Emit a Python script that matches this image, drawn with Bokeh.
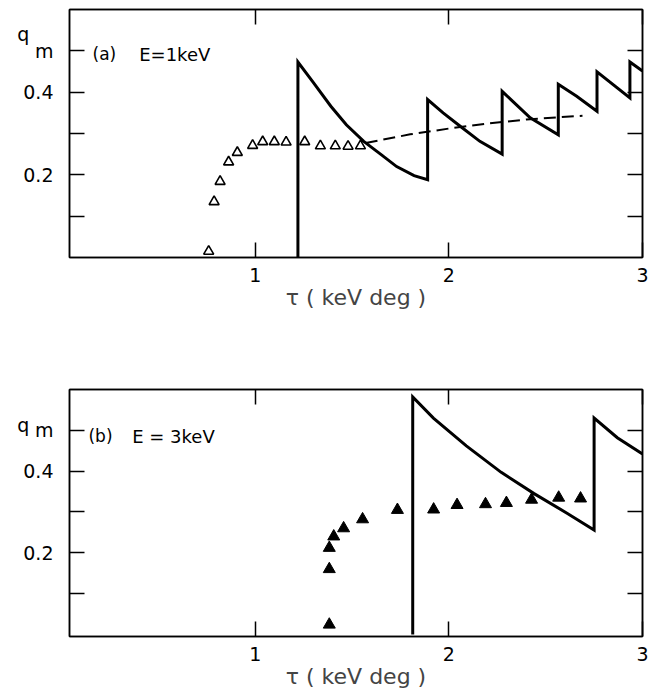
from bokeh.plotting import figure
from bokeh.models import Range1d, FixedTicker, LinearAxis, Label
from bokeh.layouts import column
from bokeh.embed import file_html
from bokeh.resources import INLINE

# ---------------- data ----------------
# panel (a) E = 1 keV : measured points (open triangles)
tri_a_x = [0.759, 0.787, 0.818, 0.862, 0.907, 0.986, 1.038, 1.098, 1.159, 1.255, 1.336, 1.413, 1.479, 1.543]
tri_a_y = [0.015, 0.135, 0.184, 0.231, 0.254, 0.271, 0.280, 0.280, 0.279, 0.280, 0.270, 0.270, 0.269, 0.270]
# panel (a) calculated sawtooth (solid)
saw_a_x = [1.22, 1.22, 1.30, 1.39, 1.47, 1.56, 1.65, 1.73, 1.82, 1.89, 1.89, 1.97, 2.06, 2.16, 2.275,
           2.275, 2.42, 2.565, 2.565, 2.66, 2.765, 2.765, 2.935, 2.935, 3.0]
saw_a_y = [0.0, 0.473, 0.423, 0.366, 0.321, 0.281, 0.249, 0.220, 0.198, 0.188, 0.382, 0.350, 0.317, 0.281, 0.250,
           0.402, 0.338, 0.297, 0.419, 0.390, 0.354, 0.449, 0.386, 0.473, 0.451]
# panel (a) dashed trend
dash_a_x = [1.57, 1.80, 2.00, 2.20, 2.40, 2.69]
dash_a_y = [0.277, 0.298, 0.312, 0.324, 0.334, 0.343]

# panel (b) E = 3 keV : measured points (filled triangles)
tri_b_x = [1.382, 1.382, 1.382, 1.405, 1.456, 1.554, 1.734, 1.921, 2.042, 2.189, 2.297, 2.427, 2.567, 2.680]
tri_b_y = [0.024, 0.160, 0.212, 0.240, 0.260, 0.282, 0.305, 0.306, 0.317, 0.319, 0.322, 0.330, 0.335, 0.333]
# panel (b) calculated sawtooth (solid)
saw_b_x = [1.813, 1.813, 1.92, 2.09, 2.27, 2.44, 2.61, 2.75, 2.75, 2.87, 3.0]
saw_b_y = [0.0, 0.582, 0.530, 0.462, 0.397, 0.345, 0.297, 0.256, 0.530, 0.482, 0.442]

x_ticks = [1, 2, 3]
y_ticks = [0.1, 0.2, 0.3, 0.4, 0.5]
y_label_ticks = [0.2, 0.4, 0.5]
# the subscript "m" of the axis symbol q_m sits exactly at the 0.5 tick
y_tick_labels = {0.2: "0.2", 0.4: "0.4", 0.5: "m"}
q_text = "q\u00a0\u00a0\u00a0\u00a0"
x_label = "τ ( keV deg )"

FONT = "DejaVu Sans"


def style_axis(ax, labels=True):
    ax.major_tick_in = 15
    ax.major_tick_out = 0
    ax.minor_tick_in = 0
    ax.minor_tick_out = 0
    ax.major_tick_line_width = 1.5
    ax.major_tick_line_color = "black"
    ax.axis_line_width = 1.5
    ax.axis_line_color = "black"
    ax.major_label_text_font = FONT
    ax.major_label_text_color = "black"
    if labels:
        ax.major_label_text_font_size = "19px"
    else:
        ax.major_label_text_font_size = "1px"
        ax.major_label_standoff = 0


def make_fig(height, btop, bbottom, yr, tag, tag_pos, etext, e_pos, q_at):
    p = figure(width=650, height=height, x_range=Range1d(0.04, 3.0), y_range=Range1d(*yr),
               output_backend="svg", toolbar_location=None,
               min_border_left=69, min_border_right=8, min_border_top=btop, min_border_bottom=bbottom)
    p.grid.visible = False
    p.outline_line_color = "black"
    p.outline_line_width = 1.5
    p.background_fill_color = "white"
    p.border_fill_color = "white"

    xa = p.xaxis[0]
    xa.ticker = FixedTicker(ticks=x_ticks)
    style_axis(xa)
    xa.major_label_standoff = 10
    xa.axis_label = x_label
    xa.axis_label_text_font = FONT
    xa.axis_label_text_font_size = "22px"
    xa.axis_label_text_font_style = "normal"
    xa.axis_label_standoff = 0

    # left: inward ticks only (touching the frame)
    ya = p.yaxis[0]
    ya.ticker = FixedTicker(ticks=y_ticks)
    ya.major_label_overrides = {t: "" for t in y_ticks}
    style_axis(ya, labels=False)

    # left: labels only (0.2, 0.4 and the q_m symbol)
    la = LinearAxis(ticker=FixedTicker(ticks=y_label_ticks + [q_at]))
    labels = dict(y_tick_labels)
    labels[q_at] = q_text
    la.major_label_overrides = labels
    la.axis_line_color = None
    la.major_tick_line_color = None
    la.minor_tick_line_color = None
    la.major_tick_in = 0
    la.major_tick_out = 0
    la.major_label_standoff = 16
    la.major_label_text_font = FONT
    la.major_label_text_font_size = "19px"
    la.major_label_text_color = "black"
    p.add_layout(la, "left")

    top = LinearAxis(ticker=FixedTicker(ticks=x_ticks), major_label_overrides={1: "", 2: "", 3: ""})
    style_axis(top, labels=False)
    p.add_layout(top, "above")
    right = LinearAxis(ticker=FixedTicker(ticks=y_ticks),
                       major_label_overrides={t: "" for t in y_ticks})
    style_axis(right, labels=False)
    p.add_layout(right, "right")

    p.add_layout(Label(x=tag_pos[0], y=tag_pos[1], text=tag, text_font=FONT, text_font_size="17px",
                       text_color="black", text_baseline="alphabetic", text_align="left"))
    p.add_layout(Label(x=e_pos[0], y=e_pos[1], text=etext, text_font=FONT, text_font_size="18px",
                       text_color="black", text_baseline="alphabetic", text_align="left"))
    return p


p1 = make_fig(375, 9, 118, (0.0, 0.6), "(a)", (0.159, 0.492), "E=1keV", (0.40, 0.492), 0.540)
p1.line(dash_a_x, dash_a_y, line_color="black", line_width=2, line_dash="12 6")
p1.line(saw_a_x, saw_a_y, line_color="black", line_width=3, line_join="miter")
p1.scatter(tri_a_x, tri_a_y, marker="triangle", size=10, fill_color="white",
           line_color="black", line_width=1.6)

p2 = make_fig(320, 14, 59, (-0.005, 0.6), "(b)", (0.138, 0.485), "E = 3keV", (0.364, 0.485), 0.514)
p2.line(saw_b_x, saw_b_y, line_color="black", line_width=3, line_join="miter")
p2.scatter(tri_b_x, tri_b_y, marker="triangle", size=12, fill_color="black",
           line_color="black", line_width=1)

layout = column(p1, p2, spacing=0)
open("out.html", "w").write(file_html(layout, INLINE))
